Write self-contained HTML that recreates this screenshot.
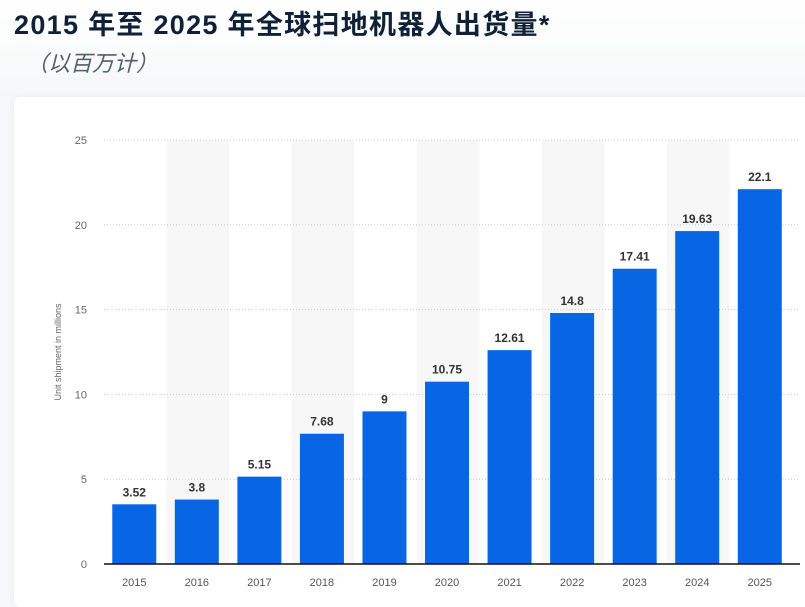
<!DOCTYPE html>
<html><head><meta charset="utf-8"><style>
body{margin:0;width:805px;height:591px;overflow:hidden;background:#f7f8f9;font-family:"Liberation Sans","Noto Sans CJK SC",sans-serif;position:relative}
#top{position:absolute;left:0;top:0;width:805px;height:97px;background:linear-gradient(#fff,#f6f7f8)}
h1{position:absolute;left:14px;top:3px;margin:0;font-size:27px;letter-spacing:1.3px;font-weight:bold;color:#0f2137;font-family:"Liberation Sans","Noto Sans CJK SC",sans-serif}
#sub{position:absolute;left:26px;top:46px;font-size:22px;font-style:italic;color:#50606f}
#card{position:absolute;left:14px;top:97px;width:800px;height:510px;background:#fff;border-radius:6px;box-shadow:0 0 8px rgba(0,0,0,0.06)}
svg{position:absolute;left:0;top:0}
</style></head><body>
<div id="top"></div>
<h1>2015 年至 2025 年全球扫地机器人出货量*</h1>
<div id="sub">（以百万计）</div>
<div id="card"></div>
<svg id="chart" width="805" height="591"></svg>
<script>
const categories=["2015","2016","2017","2018","2019","2020","2021","2022","2023","2024","2025"];
const values=[3.52,3.8,5.15,7.68,9,10.75,12.61,14.8,17.41,19.63,22.1];
const labels=["3.52","3.8","5.15","7.68","9","10.75","12.61","14.8","17.41","19.63","22.1"];
const yTicks=[0,5,10,15,20,25];
const svg=document.getElementById('chart');
const NS='http://www.w3.org/2000/svg';
const y0=564,yTop=140,yMax=25,x0=104,step=62.55,bw=44;
const y=v=>y0-(v/yMax)*(y0-yTop);
const xc=i=>x0+step*(i+0.5);
function mk(t,a){const e=document.createElementNS(NS,t);for(const k in a)e.setAttribute(k,a[k]);svg.appendChild(e);return e;}
categories.forEach((c,i)=>{if(i%2==1){const b=mk('rect',{x:xc(i)-step/2,y:yTop,width:step,height:y0-yTop,fill:'#f7f7f7'});

}});
yTicks.forEach(t=>{
if(t>0){const g=mk('line',{x1:x0,x2:800,y1:y(t),y2:y(t),stroke:'#ccc','stroke-dasharray':'1,2'});

}
const l=mk('text',{x:87,y:y(t)+4,'text-anchor':'end','font-size':'11',fill:'#666'});l.textContent=t;


});
categories.forEach((c,i)=>{
const r=mk('rect',{x:xc(i)-bw/2-1,y:y(values[i]),width:bw,height:y0-y(values[i]),fill:'#0866e4'});


const v=mk('text',{x:xc(i)-1,y:y(values[i])-8,'text-anchor':'middle','font-size':'12','font-weight':'bold',fill:'#333'});v.textContent=labels[i];


const xl=mk('text',{x:xc(i)-1,y:586,'text-anchor':'middle','font-size':'11',fill:'#555'});xl.textContent=c;


});
const ax=mk('line',{x1:x0,x2:800,y1:y0,y2:y0,stroke:'#111','stroke-width':1.5});


const yt=mk('text',{x:0,y:0,transform:'translate(61,352) rotate(-90)','text-anchor':'middle','font-size':'9',fill:'#666'});yt.textContent='Unit shipment in millions';


</script>
</body></html>
